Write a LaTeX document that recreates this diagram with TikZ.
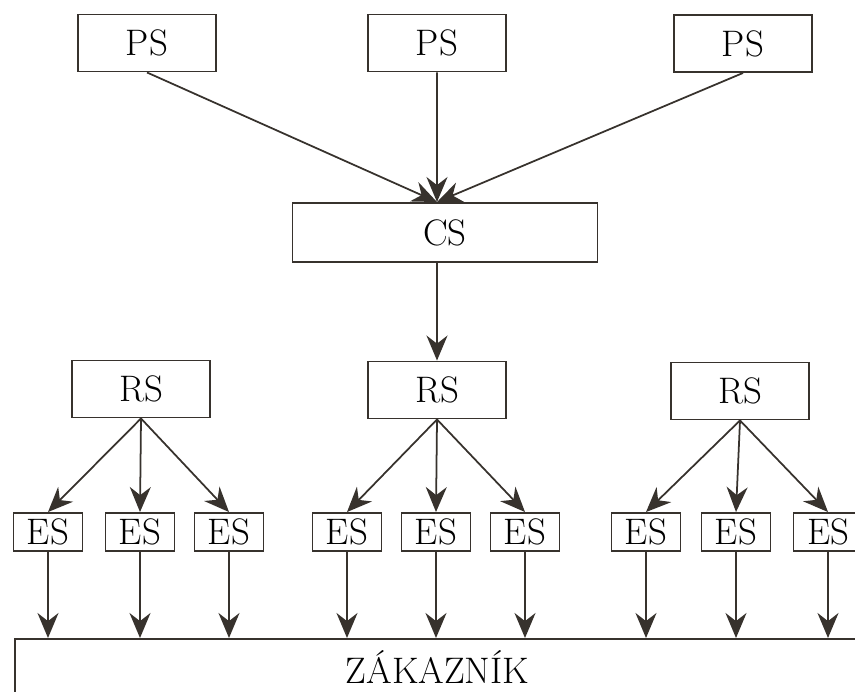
\documentclass[tikz,border=0pt]{standalone}
\usepackage{fontspec}
\usepackage{tikz}
\usetikzlibrary{arrows.meta}
\definecolor{ink}{RGB}{55,50,45}
\tikzset{
  box/.style={draw=ink, line width=1.1pt, minimum width=2.76cm, minimum height=1.14cm, inner sep=0pt, font=\fontsize{21}{24}\selectfont},
  esbox/.style={box, minimum width=1.38cm, minimum height=0.76cm},
  arr/.style={draw=ink, line width=1pt, -{Stealth[length=5mm,width=4.2mm]}}
}

\begin{document}
\begin{tikzpicture}
\useasboundingbox (0,0) rectangle (17.1,-13.84);
\clip (0,0) rectangle (17.1,-13.84);
\node[box] (ps1) at (2.94,-0.86) {PS};
\node[box] (ps2) at (8.74,-0.86) {PS};
\node[box] (ps3) at (14.86,-0.87) {PS};
\node[box, minimum width=6.1cm, minimum height=1.18cm] (cs) at (8.9,-4.65) {CS};
\node[box] (rs1) at (2.82,-7.78) {RS};
\node[box] (rs2) at (8.74,-7.8) {RS};
\node[box] (rs3) at (14.8,-7.82) {RS};
\foreach \n/\x in {1/0.96,2/2.80,3/4.58,4/6.94,5/8.72,6/10.50,7/12.92,8/14.72,9/16.56}
  \node[esbox] (es\n) at (\x,-10.64) {ES};
\node[box, anchor=north west, minimum width=16.9cm, minimum height=1.12cm] (zak) at (0.28,-12.76) {\addfontfeature{LetterSpace=15}ZÁKAZNÍK};
\foreach \p in {ps1,ps2,ps3}
  \draw[arr] (\p.south) -- ([xshift=-0.16cm]cs.north);
\draw[arr] ([xshift=-0.16cm]cs.south) -- (rs2.north);
\foreach \e in {1,2,3} \draw[arr] (rs1.south) -- (es\e.north);
\foreach \e in {4,5,6} \draw[arr] (rs2.south) -- (es\e.north);
\foreach \e in {7,8,9} \draw[arr] (rs3.south) -- (es\e.north);
\foreach \e in {1,...,9} \draw[arr] (es\e.south) -- (es\e.south |- zak.north);
\end{tikzpicture}
\end{document}
